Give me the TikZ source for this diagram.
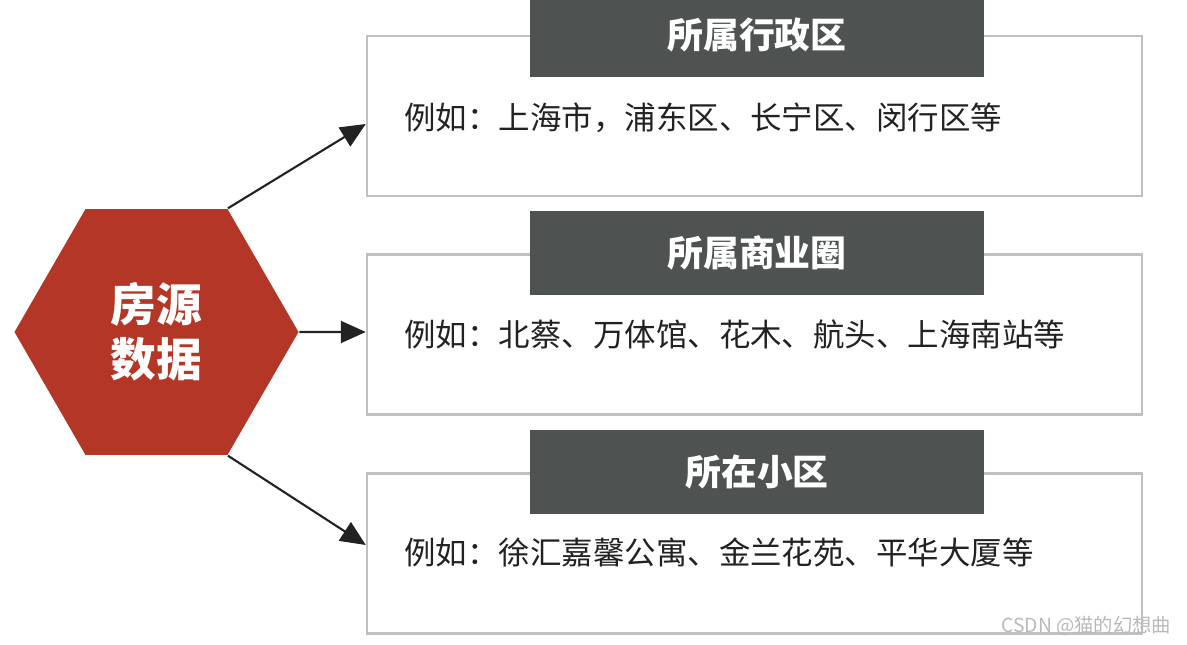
\documentclass[tikz,border=0pt]{standalone}
\usepackage{fontspec}
\setmainfont{Noto Sans CJK SC}
\usepackage{xcolor}
\usetikzlibrary{shapes.geometric, arrows.meta, positioning, calc}
\definecolor{hexred}{RGB}{180, 54, 38}
\definecolor{headgray}{RGB}{78, 83, 82}
\definecolor{framegray}{RGB}{192, 192, 192}
\definecolor{textdark}{RGB}{34, 34, 34}
\tikzstyle{infobox} = [rectangle, draw=framegray, line width=0.7pt, minimum width=7.75cm, minimum height=1.6cm]
\tikzstyle{header} = [rectangle, fill=headgray, text=white, minimum width=4.54cm, minimum height=0.84cm, font=\fontsize{10.2}{12}\selectfont\bfseries]
\tikzstyle{example} = [anchor=west, text=textdark, inner sep=0pt, font=\fontsize{8.95}{11}\selectfont]
\tikzstyle{arrow} = [-{Triangle[length=2.5mm, width=2.2mm]}, line width=0.6pt, textdark]

\begin{document}
\begin{tikzpicture}
    \useasboundingbox (0,0) rectangle (11.87,-6.45);

    % Source hexagon
    \node[regular polygon, regular polygon sides=6, minimum size=2.84cm, inner sep=0pt, fill=hexred, text=white, align=center, font=\fontsize{13}{15.6}\selectfont\bfseries] (hex) at (1.565,-3.32) {房源\\数据};

    % District
    \node[infobox] (box1) at (7.545,-1.16) {};
    \node[header] (head1) at ([xshift=0.025cm]box1.north) {所属行政区};
    \node[example] (ex1) at ([xshift=0.38cm, yshift=-0.02cm]box1.west) {例如：上海市，浦东区、长宁区、闵行区等};

    % Business area
    \node[infobox] (box2) at (7.545,-3.345) {};
    \node[header] (head2) at ([xshift=0.025cm]box2.north) {所属商业圈};
    \node[example] (ex2) at ([xshift=0.38cm]box2.west) {例如：北蔡、万体馆、花木、航头、上海南站等};

    % Residential community
    \node[infobox] (box3) at (7.545,-5.535) {};
    \node[header] (head3) at ([xshift=0.025cm]box3.north) {所在小区};
    \node[example] (ex3) at ([xshift=0.38cm, yshift=0.015cm]box3.west) {例如：徐汇嘉馨公寓、金兰花苑、平华大厦等};

    % Arrows
    \draw[arrow] (hex.60) -- ([yshift=-0.08cm]box1.west);
    \draw[arrow] (hex.east) -- ([yshift=0.025cm]box2.west);
    \draw[arrow] (hex.-60) -- ([yshift=0.085cm]box3.west);

    % Watermark
    \node[anchor=east, inner sep=0pt, text=gray!55, font=\fontsize{5.5}{6}\selectfont] (mark) at (11.72,-6.26) {CSDN @猫的幻想曲};
\end{tikzpicture}
\end{document}
